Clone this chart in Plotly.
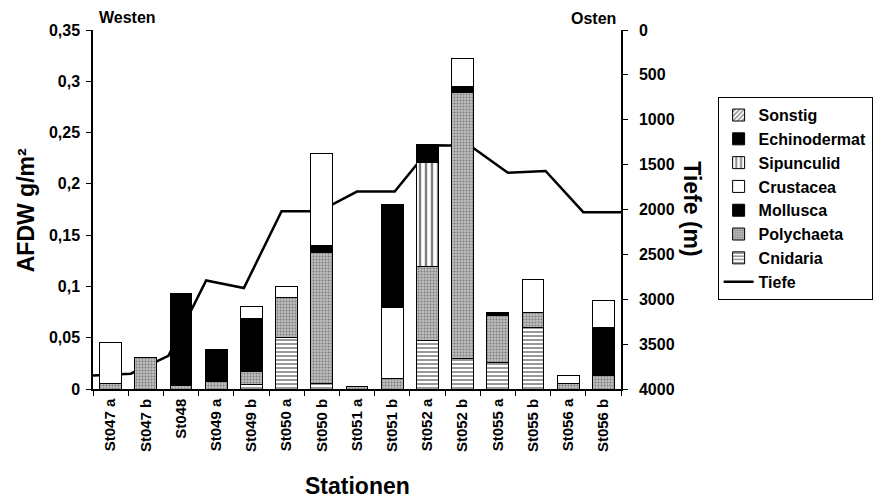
import plotly.graph_objects as go

# Stations (category axis)
stations = ["St047 a", "St047 b", "St048", "St049 a", "St049 b", "St050 a", "St050 b",
            "St051 a", "St051 b", "St052 a", "St052 b", "St055 a", "St055 b", "St056 a", "St056 b"]

# AFDW g/m2 per taxon group (stack order bottom -> top)
cnidaria     = [None, None, None, None, 0.004, 0.050, 0.005, None, None, 0.047, 0.030, 0.026, 0.060, None, None]
polychaeta   = [0.005, 0.031, 0.003, 0.007, 0.0135, 0.039, 0.128, 0.002, 0.010, 0.072, 0.2595, 0.046, 0.015, 0.005, 0.0136]
mollusca     = [None, None, 0.0905, 0.032, 0.0515, None, 0.0065, None, None, None, 0.0055, 0.003, None, None, 0.0464]
crustacea    = [0.040, None, None, None, 0.011, 0.011, 0.090, None, 0.069, None, 0.0275, None, 0.032, 0.008, 0.0267]
sipunculid   = [None, None, None, None, None, None, None, None, None, 0.102, None, None, None, None, None]
echinodermat = [None, None, None, None, None, None, None, None, 0.101, 0.017, None, None, None, None, None]
sonstig      = [None] * 15

# Water depth (m), west -> east
tiefe = [3850, 3830, 3630, 2790, 2875, 2020, 2020, 1800, 1800, 1285, 1290, 1590, 1570, 2030, 2030]

afdw_ticks = [0, 0.05, 0.1, 0.15, 0.2, 0.25, 0.3, 0.35]
afdw_labels = ["0", "0,05", "0,1", "0,15", "0,2", "0,25", "0,3", "0,35"]
depth_ticks = [0, 500, 1000, 1500, 2000, 2500, 3000, 3500, 4000]
depth_labels = [str(v) for v in depth_ticks]

FONT = "Liberation Sans"
fig = go.Figure()

# depth profile on the base subplot, so the bars are drawn over it
fig.add_trace(go.Scatter(
    x=list(range(len(tiefe))), y=tiefe, name="Tiefe", mode="lines",
    line=dict(color="black", width=2.5), xaxis="x", yaxis="y", legendrank=8))

series = [
    ("Cnidaria", cnidaria, dict(color="white", pattern=dict(shape="-", fgcolor="black", bgcolor="white", size=4, solidity=0.4)), 7),
    ("Polychaeta", polychaeta, dict(color="#a8a8a8", pattern=dict(shape=".", fgcolor="#404040", bgcolor="#bdbdbd", size=3, solidity=0.35)), 6),
    ("Mollusca", mollusca, dict(color="black"), 5),
    ("Crustacea", crustacea, dict(color="white"), 4),
    ("Sipunculid", sipunculid, dict(color="white", pattern=dict(shape="|", fgcolor="black", bgcolor="white", size=6, solidity=0.4)), 3),
    ("Echinodermat", echinodermat, dict(color="black"), 2),
    ("Sonstig", sonstig, dict(color="white", pattern=dict(shape="/", fgcolor="black", bgcolor="white", size=4, solidity=0.4)), 1),
]
for name, vals, marker, rank in series:
    marker = dict(marker)
    marker["line"] = dict(color="black", width=1)
    fig.add_trace(go.Bar(x=stations, y=vals, name=name, marker=marker,
                         xaxis="x2", yaxis="y2", legendrank=rank))

tickfont = dict(family=FONT, size=16, color="black", weight="bold")

fig.update_layout(
    width=885, height=501,
    margin=dict(l=93, r=262, t=30, b=112),
    paper_bgcolor="white", plot_bgcolor="white",
    barmode="stack", bargap=0.38,
    font=dict(family=FONT, color="black"),
    xaxis=dict(range=[0, 14], visible=False, domain=[0, 1]),
    yaxis=dict(side="right", range=[4000, 0], tickvals=depth_ticks, ticktext=depth_labels,
               showline=True, linecolor="black", linewidth=1.5, ticks="outside", ticklen=5,
               tickcolor="black", tickfont=tickfont, ticklabelstandoff=8,
               showgrid=False, zeroline=False),
    xaxis2=dict(overlaying="x", type="category", anchor="y2", side="bottom",
                showline=True, linecolor="black", linewidth=1.5, ticks="outside", ticklen=5,
                tickson="boundaries", tickcolor="black", tickangle=-90,
                tickfont=dict(family=FONT, size=15, color="black", weight="bold"),
                ticklabelstandoff=2, showgrid=False),
    yaxis2=dict(overlaying="y", side="left", anchor="x2", range=[0, 0.35],
                tickvals=afdw_ticks, ticktext=afdw_labels,
                showline=True, linecolor="black", linewidth=1.5, ticks="outside", ticklen=5,
                tickcolor="black", tickfont=tickfont, ticklabelstandoff=3,
                showgrid=False, zeroline=False),
    legend=dict(x=1.183, y=0.813, xanchor="left", yanchor="top",
                bordercolor="black", borderwidth=1, bgcolor="white",
                font=dict(family=FONT, size=16, color="black", weight="bold"),
                traceorder="normal"),
    showlegend=True,
)

title_font = dict(family=FONT, size=23, color="black", weight="bold")
small_font = dict(family=FONT, size=16, color="black", weight="bold")
fig.add_annotation(text="AFDW g/m²", x=26, y=210, textangle=-90, font=title_font)
fig.add_annotation(text="Tiefe (m)", x=694, y=209, textangle=90, font=title_font)
fig.add_annotation(text="Stationen", x=358, y=486, font=title_font)
fig.add_annotation(text="Westen", x=128, y=17, font=small_font)
fig.add_annotation(text="Osten", x=595, y=18, font=small_font)

# convert pixel positions of the annotations to paper coordinates
W, H = 885, 501
l, r, t, b = 93, 262, 30, 112
pw, ph = W - l - r, H - t - b
for ann in fig.layout.annotations:
    ann.update(xref="paper", yref="paper", showarrow=False,
               xanchor="center", yanchor="middle",
               x=(ann.x - l) / pw, y=(H - b - ann.y) / ph)

fig.write_html("out.html")
